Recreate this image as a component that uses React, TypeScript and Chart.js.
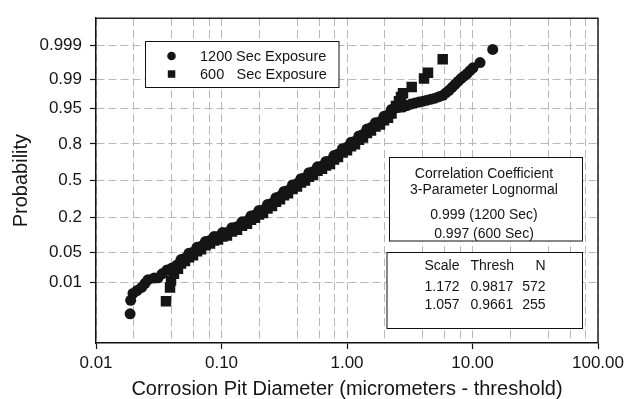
import React, { useEffect, useRef } from "react";
import { Chart, registerables } from "chart.js";

Chart.register(...registerables);

// ---- Data ----
// 1200 Sec Exposure: pit diameter (micrometers - threshold) and cumulative probability
const diam1200 = [
  0.0187, 0.0189, 0.0197, 0.0212, 0.0231, 0.0246, 0.026, 0.029, 0.0312, 0.0336, 0.0368, 0.0403,
  0.0442, 0.0512, 0.0593, 0.0687, 0.081, 0.0938, 0.1106, 0.1329, 0.1597, 0.1849, 0.2141, 0.2526,
  0.2925, 0.3388, 0.3996, 0.4628, 0.536, 0.6323, 0.7321, 0.8478, 1.0, 1.158, 1.341, 1.553, 1.832,
  2.122, 2.413, 2.596, 2.794, 3.007, 3.236, 3.482, 3.748, 4.033, 4.34, 4.67, 5.026, 5.41, 5.82,
  6.15, 6.5, 6.87, 7.26, 7.66, 8.1, 8.56, 9.04, 9.55, 10.09, 11.48, 14.49,
];
const prob1200 = [
  0.00114, 0.00305, 0.0049, 0.0059, 0.0072, 0.0093, 0.0116, 0.0128, 0.013, 0.0164, 0.0204, 0.0228,
  0.0266, 0.0379, 0.0505, 0.0661, 0.0852, 0.1, 0.1168, 0.1455, 0.1785, 0.2157, 0.25, 0.3026,
  0.3594, 0.411, 0.473, 0.527, 0.58, 0.632, 0.673, 0.728, 0.7776, 0.8157, 0.8545, 0.8875, 0.9112,
  0.934, 0.9518, 0.953, 0.954, 0.9572, 0.9602, 0.962, 0.9639, 0.9656, 0.9673, 0.9689, 0.9705, 0.9727, 0.9747,
  0.9778, 0.9807, 0.9836, 0.9862, 0.9884, 0.9903, 0.9916, 0.9928, 0.9941, 0.9951, 0.99656, 0.99867,
];
// 1200 Sec Exposure: more points inside the dense band
const diam1200Band = [
  0.0476, 0.0551, 0.0638, 0.0746, 0.0872, 0.1019, 0.1212, 0.1457, 0.1719, 0.1989, 0.2326, 0.2719,
  0.3148, 0.3679, 0.43, 0.498, 0.5821, 0.6803, 0.7878, 0.921, 1.076, 1.246, 1.443, 1.687, 1.972, 2.263,
];
const prob1200Band = [
  0.0352, 0.0482, 0.0633, 0.0818, 0.1001, 0.1168, 0.1403, 0.1726, 0.2093, 0.2467, 0.2912, 0.3472,
  0.4025, 0.4598, 0.518, 0.5714, 0.6236, 0.6693, 0.7167, 0.7673, 0.8095, 0.8467, 0.881, 0.9076, 0.9295, 0.9483,
];

// 600 Sec Exposure
const diam600 = [
  0.0361, 0.0389, 0.0396, 0.0418, 0.045, 0.0476, 0.0551, 0.0638, 0.0746, 0.0872, 0.1019, 0.1212,
  0.1457, 0.1719, 0.1989, 0.2326, 0.2719, 0.3148, 0.3679, 0.43, 0.498, 0.5821, 0.6803, 0.7878,
  0.921, 1.076, 1.246, 1.443, 1.687, 1.972, 2.263, 2.457, 2.596, 2.693, 2.794, 3.278, 4.108, 4.42, 5.788,
];
const prob600 = [
  0.00286, 0.0072, 0.011, 0.0164, 0.0216, 0.0288, 0.0398, 0.0528, 0.069, 0.0852, 0.1001, 0.1213,
  0.1506, 0.1843, 0.2192, 0.261, 0.3145, 0.368, 0.4243, 0.482, 0.5358, 0.589, 0.636, 0.6855,
  0.739, 0.7842, 0.8245, 0.8621, 0.8918, 0.9165, 0.9381, 0.9562, 0.9656, 0.9724, 0.9772, 0.9839, 0.9903, 0.99328, 0.99728,
];
// 600 Sec Exposure: more points inside the dense band
const diam600Band = [
  0.0442, 0.0512, 0.0593, 0.0687, 0.081, 0.0938, 0.1106, 0.1329, 0.1597, 0.1849, 0.2141, 0.2526,
  0.2925, 0.3388, 0.3996, 0.4628, 0.536, 0.6323, 0.7321, 0.8478, 1.0, 1.158, 1.341, 1.553, 1.832, 2.122,
];
const prob600Band = [
  0.0228, 0.0327, 0.0439, 0.0579, 0.0752, 0.0888, 0.1042, 0.1307, 0.1616, 0.1966, 0.2293, 0.2796,
  0.3347, 0.3851, 0.4467, 0.5, 0.5537, 0.6064, 0.6488, 0.7054, 0.7571, 0.7973, 0.8387, 0.8741, 0.9, 0.925,
];

// Axes
const xMin = 0.01;
const xMax = 100;
const xGridValues = [
  0.01, 0.02, 0.04, 0.06, 0.08, 0.1, 0.2, 0.4, 0.6, 0.8, 1, 2, 4, 6, 8, 10, 20, 40, 60, 80, 100,
];
const xMajorValues = [0.01, 0.1, 1, 10, 100];
const xMajorLabels = ["0.01", "0.10", "1.00", "10.00", "100.00"];
const yMinProb = 0.0001;
const yMaxProb = 0.9999;
const yTickProbs = [0.01, 0.05, 0.2, 0.5, 0.8, 0.95, 0.99, 0.999];
const yTickLabels = ["0.01", "0.05", "0.2", "0.5", "0.8", "0.95", "0.99", "0.999"];

// Annotation text
const legendNums = ["1200", "600"];
const legendText = "Sec Exposure";
const corrLines = ["Correlation Coefficient", "3-Parameter Lognormal", "0.999 (1200 Sec)", "0.997 (600 Sec)"];
const tableHeader = ["Scale", "Thresh", "N"];
const tableRows = [
  ["1.172", "0.9817", "572"],
  ["1.057", "0.9661", "255"],
];

const FONT = "'Liberation Sans', Arial, Helvetica, sans-serif";
const INK = "#151515";

function probit(p: number): number {
  const a = [-39.69683028665376, 220.9460984245205, -275.9285104469687, 138.357751867269, -30.66479806614716, 2.506628277459239];
  const b = [-54.47609879822406, 161.5858368580409, -155.6989798598866, 66.80131188771972, -13.28068155288572];
  const c = [-0.007784894002430293, -0.3223964580411365, -2.400758277161838, -2.549732539343734, 4.374664141464968, 2.938163982698783];
  const d = [0.007784695709041462, 0.3224671290700398, 2.445134137142996, 3.754408661907416];
  const pl = 0.02425;
  const ph = 1 - pl;
  if (p < pl) {
    const q = Math.sqrt(-2 * Math.log(p));
    return (((((c[0] * q + c[1]) * q + c[2]) * q + c[3]) * q + c[4]) * q + c[5]) /
      ((((d[0] * q + d[1]) * q + d[2]) * q + d[3]) * q + 1);
  }
  if (p <= ph) {
    const q = p - 0.5;
    const r = q * q;
    return ((((((a[0] * r + a[1]) * r + a[2]) * r + a[3]) * r + a[4]) * r + a[5]) * q) /
      (((((b[0] * r + b[1]) * r + b[2]) * r + b[3]) * r + b[4]) * r + 1);
  }
  const q = Math.sqrt(-2 * Math.log(1 - p));
  return -(((((c[0] * q + c[1]) * q + c[2]) * q + c[3]) * q + c[4]) * q + c[5]) /
    ((((d[0] * q + d[1]) * q + d[2]) * q + d[3]) * q + 1);
}

function isMajor(v: number): boolean {
  return xMajorValues.some((m) => Math.abs(v - m) / m < 1e-6);
}

function toPoints(diams: number[], probs: number[]) {
  return diams.map((d, i) => ({ x: d, y: probit(probs[i]) }));
}

const annotationPlugin = {
  id: "annotations",
  afterDraw(chart: any) {
    const ctx = chart.ctx as CanvasRenderingContext2D;
    const ca = chart.chartArea;
    ctx.save();
    // frame (top/right)
    ctx.strokeStyle = "#222";
    ctx.lineWidth = 1.5;
    ctx.beginPath();
    ctx.moveTo(ca.left, ca.top);
    ctx.lineTo(ca.right, ca.top);
    ctx.lineTo(ca.right, ca.bottom);
    ctx.stroke();

    // legend box
    ctx.fillStyle = "#fff";
    ctx.strokeStyle = "#111";
    ctx.lineWidth = 1;
    ctx.fillRect(145.5, 41.5, 193.5, 46);
    ctx.strokeRect(145.5, 41.5, 193.5, 46);
    ctx.fillStyle = INK;
    ctx.beginPath();
    ctx.arc(171.5, 56, 4.3, 0, Math.PI * 2);
    ctx.fill();
    ctx.fillRect(167.8, 70.3, 7.5, 7.5);
    ctx.font = `14.5px ${FONT}`;
    ctx.textBaseline = "alphabetic";
    ctx.textAlign = "left";
    ctx.fillText(legendNums[0], 200, 61.3);
    ctx.fillText(legendText, 236, 61.3);
    ctx.fillText(legendNums[1], 200, 79.3);
    ctx.fillText(legendText, 236.5, 79.3);

    // correlation box
    ctx.fillStyle = "#fff";
    ctx.fillRect(389.5, 157.5, 193, 83.5);
    ctx.strokeRect(389.5, 157.5, 193, 83.5);
    ctx.fillStyle = INK;
    ctx.font = `14px ${FONT}`;
    ctx.textAlign = "center";
    const corrY = [177.8, 193.8, 219, 238.3];
    corrLines.forEach((t, i) => ctx.fillText(t, 484, corrY[i]));

    // table box
    ctx.fillStyle = "#fff";
    ctx.fillRect(387, 252.5, 195.5, 76);
    ctx.strokeRect(387, 252.5, 195.5, 76);
    ctx.fillStyle = INK;
    const rowsY = [270, 290.7, 309.3];
    const allRows = [tableHeader, ...tableRows];
    allRows.forEach((row, i) => {
      ctx.textAlign = "left";
      ctx.fillText(row[0], 424.5, rowsY[i]);
      ctx.fillText(row[1], 470.5, rowsY[i]);
      ctx.textAlign = "right";
      ctx.fillText(row[2], 545.5, rowsY[i]);
    });
    ctx.restore();
  },
};

export default function App() {
  const canvasRef = useRef<HTMLCanvasElement | null>(null);

  useEffect(() => {
    if (!canvasRef.current) return;
    Chart.defaults.font.family = FONT;
    const pts1200 = [...toPoints(diam1200, prob1200), ...toPoints(diam1200Band, prob1200Band)];
    const pts600 = [...toPoints(diam600, prob600), ...toPoints(diam600Band, prob600Band)];
    const chart = new Chart(canvasRef.current, {
      type: "scatter",
      data: {
        datasets: [
          {
            label: "1200 Sec Exposure",
            data: pts1200,
            pointStyle: "circle",
            pointRadius: 5.5,
            pointBackgroundColor: INK,
            pointBorderWidth: 0,
            showLine: false,
          },
          {
            label: "600 Sec Exposure",
            data: pts600,
            pointStyle: "rect",
            pointRadius: 7.4,
            pointBackgroundColor: INK,
            pointBorderWidth: 0,
            showLine: false,
          },
        ],
      },
      options: {
        responsive: false,
        animation: false,
        devicePixelRatio: 1,
        layout: { padding: { top: 12, right: 30, left: 0, bottom: 0 } },
        plugins: {
          legend: { display: false },
          tooltip: { enabled: false },
        },
        scales: {
          x: {
            type: "logarithmic",
            position: "bottom",
            min: xMin,
            max: xMax,
            afterBuildTicks: (s: any) => {
              s.ticks = xGridValues.map((v) => ({ value: v, major: isMajor(v) }));
            },
            afterFit: (s: any) => {
              s.height = 56;
            },
            ticks: {
              autoSkip: false,
              maxRotation: 0,
              minRotation: 0,
              padding: 4,
              color: INK,
              font: { size: 17, family: FONT },
              callback: (v: any) => {
                const idx = xMajorValues.findIndex((m) => Math.abs(Number(v) - m) / m < 1e-6);
                return idx >= 0 ? xMajorLabels[idx] : "";
              },
            },
            grid: {
              color: "#b8b8b8",
              lineWidth: 1,
              tickLength: 6,
              tickWidth: 1.2,
              tickColor: (c: any) => (c.tick && isMajor(c.tick.value) ? "#111" : "rgba(0,0,0,0)"),
            },
            border: { display: true, color: "#111", width: 1.5, dash: [8, 4] },
            title: {
              display: true,
              text: "Corrosion Pit Diameter (micrometers - threshold)",
              color: INK,
              font: { size: 20, family: FONT, lineHeight: 1.0 },
              padding: { top: 0, bottom: 0 },
            },
          },
          y: {
            type: "linear",
            min: probit(yMinProb),
            max: probit(yMaxProb),
            afterBuildTicks: (s: any) => {
              s.ticks = yTickProbs.map((p) => ({ value: probit(p) }));
            },
            afterFit: (s: any) => {
              s.width = 96;
            },
            ticks: {
              autoSkip: false,
              padding: 8,
              color: INK,
              font: { size: 17, family: FONT },
              callback: (_v: any, i: number) => yTickLabels[i],
            },
            grid: {
              color: "#b8b8b8",
              lineWidth: 1,
              tickLength: 6,
              tickWidth: 1.2,
              tickColor: "#111",
            },
            border: { display: true, color: "#111", width: 1.5, dash: [8, 4] },
            title: {
              display: true,
              text: "Probability",
              color: INK,
              font: { size: 20, family: FONT },
              padding: { top: 9, bottom: 0 },
            },
          },
        },
      },
      plugins: [annotationPlugin],
    });
    return () => chart.destroy();
  }, []);

  return (
    <div style={{ position: "fixed", left: 0, top: 0, width: 628, height: 399, background: "#fff" }}>
      <canvas ref={canvasRef} width={628} height={399} style={{ display: "block", width: 628, height: 399 }} />
    </div>
  );
}
